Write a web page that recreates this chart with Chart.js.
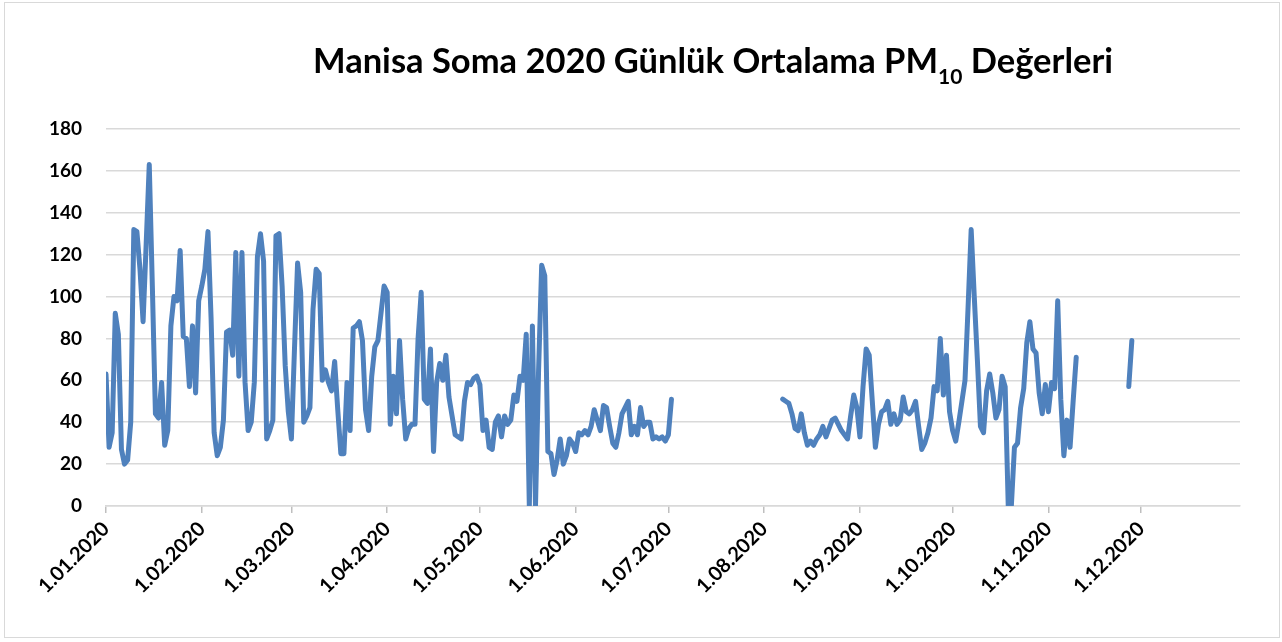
<!DOCTYPE html>
<html lang="tr">
<head>
    <meta charset="UTF-8">
    <title>Manisa Soma 2020 Günlük Ortalama PM10 Değerleri</title>
    <script src="https://cdn.jsdelivr.net/npm/chart.js@4.4.0/dist/chart.umd.min.js"></script>
    <style>
        html, body { margin: 0; padding: 0; background: #fff; }
        #wrap { position: relative; width: 1282px; height: 642px; }
        #frame { position: absolute; left: 4px; top: 2px; width: 1276px; height: 636px; border: 1px solid #d9d9d9; box-sizing: border-box; }
        #myChart { position: absolute; left: 0; top: 0; }
        #title { position: absolute; left: 313px; top: 39px; z-index: 2; font: bold 34.5px Lato, sans-serif; line-height: 1.2; white-space: nowrap; color: #000; }
        #title sub { font-size: 21px; vertical-align: -11px; line-height: 0; }
    </style>
</head>
<body>
<div id="wrap">
    <div id="frame"></div>
    <canvas id="myChart" width="1282" height="642"></canvas>
    <div id="title">Manisa Soma 2020 Günlük Ortalama PM<sub>10</sub> Değerleri</div>
</div>
<script>
    // x = day of year (0 = 1.01.2020)
    const tickDays = [0, 31, 60, 91, 121, 152, 182, 213, 244, 274, 305, 335];
    const tickLabels = ['1.01.2020', '1.02.2020', '1.03.2020', '1.04.2020', '1.05.2020', '1.06.2020',
                        '1.07.2020', '1.08.2020', '1.09.2020', '1.10.2020', '1.11.2020', '1.12.2020'];

    // 1 Jan - 2 Jul
    const janJulStart = 0;
    const janJulValues = [
        63, 28, 35, 92, 82, 27, 20, 22, 40, 132,
        131, 113, 88, 125, 163, 105, 44, 42, 59, 29,
        36, 86, 100, 98, 122, 81, 80, 57, 86, 54,
        98, 105, 113, 131, 90, 35, 24, 28, 41, 83,
        84, 72, 121, 62, 121, 59, 36, 40, 59, 119,
        130, 117, 32, 36, 41, 129, 130, 105, 67, 45,
        32, 75, 116, 102, 40, 43, 47, 94, 113, 111,
        60, 65, 59, 55, 69, 46, 25, 25, 59, 36,
        85, 86, 88, 79, 46, 36, 62, 76, 79, 92,
        105, 102, 39, 62, 44, 79, 51, 32, 37, 39,
        39, 80, 102, 51, 49, 75, 26, 59, 68, 60,
        72, 52, 43, 34, 33, 32, 50, 59, 58, 61,
        62, 58, 36, 41, 28, 27, 40, 43, 33, 43,
        39, 41, 53, 50, 62, 60, 82, 0, 86, 0,
        65, 115, 110, 26, 25, 15, 22, 32, 20, 24,
        32, 30, 26, 35, 34, 36, 34, 38, 46, 41,
        36, 48, 47, 38, 30, 28, 35, 44, 47, 50,
        34, 38, 34, 47, 38, 40, 40, 32, 33, 32,
        33, 31, 34, 51
    ];

    // 7 Aug - 10 Nov
    const augNovStart = 219;
    const augNovValues = [
        51, 50, 49, 44, 37, 36, 44, 35, 29, 31,
        29, 32, 34, 38, 33, 37, 41, 42, 39, 36,
        34, 32, 43, 53, 47, 33, 57, 75, 72, 50,
        28, 39, 45, 46, 50, 39, 44, 39, 41, 52,
        45, 44, 46, 50, 38, 27, 30, 35, 42, 57,
        55, 80, 53, 72, 45, 36, 31, 40, 50, 60,
        95, 132, 100, 70, 38, 35, 55, 63, 54, 42,
        46, 62, 57, 0, 0, 28, 30, 47, 56, 78,
        88, 75, 73, 54, 44, 58, 45, 59, 56, 98,
        51, 24, 41, 28, 50, 71
    ];

    // 27 - 28 Nov
    const lateNovStart = 331;
    const lateNovValues = [57, 79];

    const segments = [
        { start: janJulStart, values: janJulValues },
        { start: augNovStart, values: augNovValues },
        { start: lateNovStart, values: lateNovValues }
    ];

    function buildPoints() {
        const pts = [];
        segments.forEach(seg => {
            seg.values.forEach((v, i) => pts.push({ x: seg.start + i, y: v }));
            // break the line between measured periods
            pts.push({ x: seg.start + seg.values.length, y: null });
        });
        return pts;
    }

    window.addEventListener('load', () => {
        const ctx = document.getElementById('myChart').getContext('2d');
        new Chart(ctx, {
            type: 'line',
            data: {
                datasets: [{
                    label: 'PM10',
                    data: buildPoints(),
                    borderColor: '#4f81bd',
                    borderWidth: 5,
                    pointRadius: 0,
                    tension: 0,
                    spanGaps: false,
                    borderJoinStyle: 'round',
                    borderCapStyle: 'round'
                }]
            },
            options: {
                responsive: false,
                animation: false,
                layout: { padding: { left: 6, right: 42, top: 129, bottom: 0 } },
                plugins: {
                    legend: { display: false },
                    tooltip: { enabled: false }
                },
                scales: {
                    x: {
                        type: 'linear',
                        min: 0,
                        max: 367,
                        afterBuildTicks: axis => { axis.ticks = tickDays.map(v => ({ value: v })); },
                        afterFit: s => { s.height = 136; },
                        grid: { drawOnChartArea: false, color: '#bfbfbf', tickLength: 7, lineWidth: 1.5 },
                        border: { color: '#d9d9d9', width: 1.5 },
                        ticks: {
                            autoSkip: false,
                            minRotation: 45,
                            maxRotation: 45,
                            padding: 4,
                            color: '#000',
                            font: { family: 'Lato', size: 20, weight: 'bold' },
                            callback: value => tickLabels[tickDays.indexOf(value)]
                        }
                    },
                    y: {
                        min: 0,
                        max: 180,
                        afterFit: s => { s.width = 100; },
                        grid: { color: '#d9d9d9', lineWidth: 1.5, drawTicks: false },
                        border: { display: false },
                        ticks: { stepSize: 20, padding: 24, color: '#000', font: { family: 'Lato', size: 19, weight: 'bold' } }
                    }
                }
            }
        });
    });
</script>
</body>
</html>
